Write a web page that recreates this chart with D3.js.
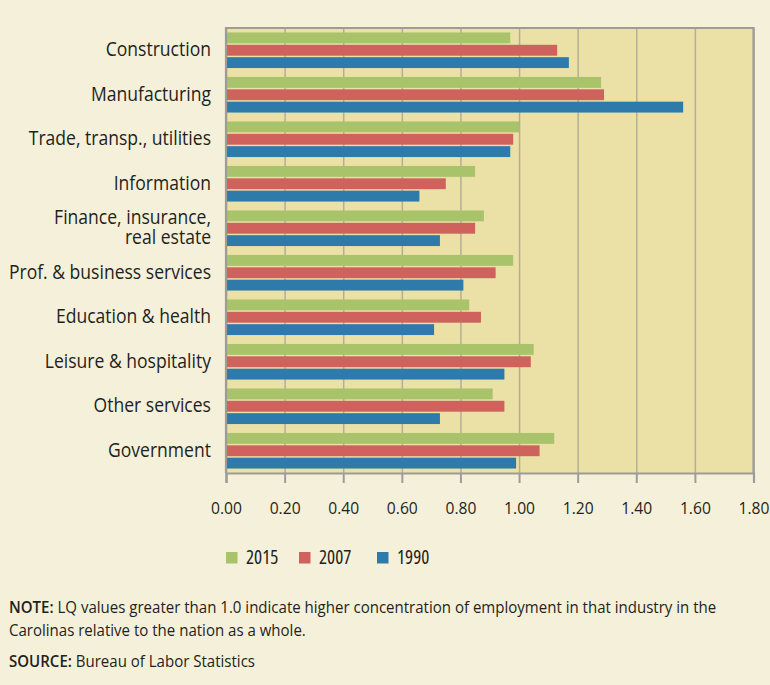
<!DOCTYPE html>
<html>
<head>
<meta charset="utf-8">
<script src="https://cdn.jsdelivr.net/npm/d3@7"></script>
<style>
  body { margin: 0; background: #f5f0da; }
  svg text { font-family: "Open Sans", "Noto Sans", sans-serif; fill: #231f20; }
</style>
</head>
<body>
<script>
var industries = ["Construction", "Manufacturing", "Trade, transp., utilities", "Information",
  "Finance, insurance,\nreal estate", "Prof. & business services", "Education & health",
  "Leisure & hospitality", "Other services", "Government"];
var years = ["2015", "2007", "1990"];
var lq2015 = [0.97, 1.28, 1.00, 0.85, 0.88, 0.98, 0.83, 1.05, 0.91, 1.12];
var lq2007 = [1.13, 1.29, 0.98, 0.75, 0.85, 0.92, 0.87, 1.04, 0.95, 1.07];
var lq1990 = [1.17, 1.56, 0.97, 0.66, 0.73, 0.81, 0.71, 0.95, 0.73, 0.99];
var xTicks = [0, 0.2, 0.4, 0.6, 0.8, 1.0, 1.2, 1.4, 1.6, 1.8];

var colors = {"2015": "#a8c36a", "2007": "#cf625c", "1990": "#2e7bab"};
var series = {"2015": lq2015, "2007": lq2007, "1990": lq1990};

var width = 770, height = 685,
  plot = {left: 226, right: 753.5, top: 28, bottom: 473};

var svg = d3.select("body").append("svg")
  .attr("width", width)
  .attr("height", height);

svg.append("rect").attr("width", width).attr("height", height).attr("fill", "#f5f0da");

var x = d3.scaleLinear().domain([0, 1.8]).range([plot.left, plot.right]);
var y = d3.scaleBand().domain(industries).range([plot.top, plot.bottom])
  .paddingInner(0.2).paddingOuter(0.1);
var yInner = d3.scaleBand().domain(years).range([0, y.bandwidth()]).paddingInner(0.12);

// plot background
svg.append("rect")
  .attr("x", plot.left).attr("y", plot.top)
  .attr("width", plot.right - plot.left).attr("height", plot.bottom - plot.top)
  .attr("fill", "#ebe1a7");

// grid lines
svg.append("g")
  .attr("transform", "translate(0," + plot.bottom + ")")
  .call(d3.axisBottom(x).tickValues(xTicks).tickSize(-(plot.bottom - plot.top)).tickFormat(""))
  .call((g) => g.select(".domain").remove())
  .call((g) => g.selectAll("line").attr("stroke", "#b4ae98").attr("stroke-width", 1.5));

// bars
var rows = [];
industries.forEach((name, i) => {
  years.forEach((yr) => rows.push({name: name, year: yr, value: series[yr][i]}));
});

svg.append("g").selectAll("rect")
  .data(rows)
  .enter()
  .append("rect")
  .attr("x", x(0))
  .attr("y", (d) => y(d.name) + yInner(d.year))
  .attr("width", (d) => x(d.value) - x(0))
  .attr("height", yInner.bandwidth())
  .attr("fill", (d) => colors[d.year]);

// frame
svg.append("path")
  .attr("d", "M" + plot.left + "," + plot.bottom + "V" + plot.top + "H" + plot.right + "V" + plot.bottom)
  .attr("fill", "none").attr("stroke", "#9d9c98").attr("stroke-width", 2.2);

// x axis (text squeezed a little to mimic the narrow original face)
var xAxis = svg.append("g")
  .attr("transform", "translate(0," + plot.bottom + ")")
  .call(d3.axisBottom(x).tickValues(xTicks).tickSize(10).tickPadding(19).tickFormat(d3.format(".2f")));
xAxis.select(".domain").attr("stroke", "#9d9c98").attr("stroke-width", 2.2);
xAxis.selectAll(".tick line").attr("stroke", "#9d9c98").attr("stroke-width", 2);
xAxis.selectAll(".tick text").attr("font-size", 17).style("fill", "#231f20")
  .style("font-family", "'Open Sans', sans-serif")
  .attr("transform", "scale(0.92,1)");

// category labels
var labels = svg.append("g")
  .attr("transform", "translate(211,0) scale(0.9,1)")
  .selectAll("text")
  .data(industries)
  .enter()
  .append("text")
  .attr("text-anchor", "end")
  .attr("font-size", 19.5)
  .attr("x", 0)
  .attr("y", (d) => y(d) + y.bandwidth() / 2);

labels.each(function(d) {
  var lines = d.split("\n");
  var t = d3.select(this);
  lines.forEach((ln, k) => {
    t.append("tspan")
      .attr("x", 0)
      .attr("dy", k == 0 ? (6 - (lines.length - 1) * 10) : 20)
      .text(ln);
  });
});

// legend
var legendX = [226, 299, 377];
var legend = svg.append("g").selectAll("g")
  .data(years)
  .enter()
  .append("g")
  .attr("transform", (d, i) => "translate(" + legendX[i] + ",552)");
legend.append("rect").attr("width", 11.5).attr("height", 11.5).attr("fill", (d) => colors[d]);
legend.append("text").attr("x", 20).attr("y", 12).attr("font-size", 19)
  .style("font-stretch", "80%").text((d) => d);

// notes
var notes = svg.append("g").attr("transform", "translate(9,0) scale(0.94,1)");
var note = notes.append("text").attr("x", 0).attr("y", 613).attr("font-size", 16);
note.append("tspan").attr("font-weight", 600).text("NOTE:");
note.append("tspan").text(" LQ values greater than 1.0 indicate higher concentration of employment in that industry in the");
notes.append("text").attr("x", 0).attr("y", 636).attr("font-size", 16)
  .text("Carolinas relative to the nation as a whole.");
var src = notes.append("text").attr("x", 0).attr("y", 667).attr("font-size", 16);
src.append("tspan").attr("font-weight", 600).text("SOURCE:");
src.append("tspan").text(" Bureau of Labor Statistics");
</script>
</body>
</html>
